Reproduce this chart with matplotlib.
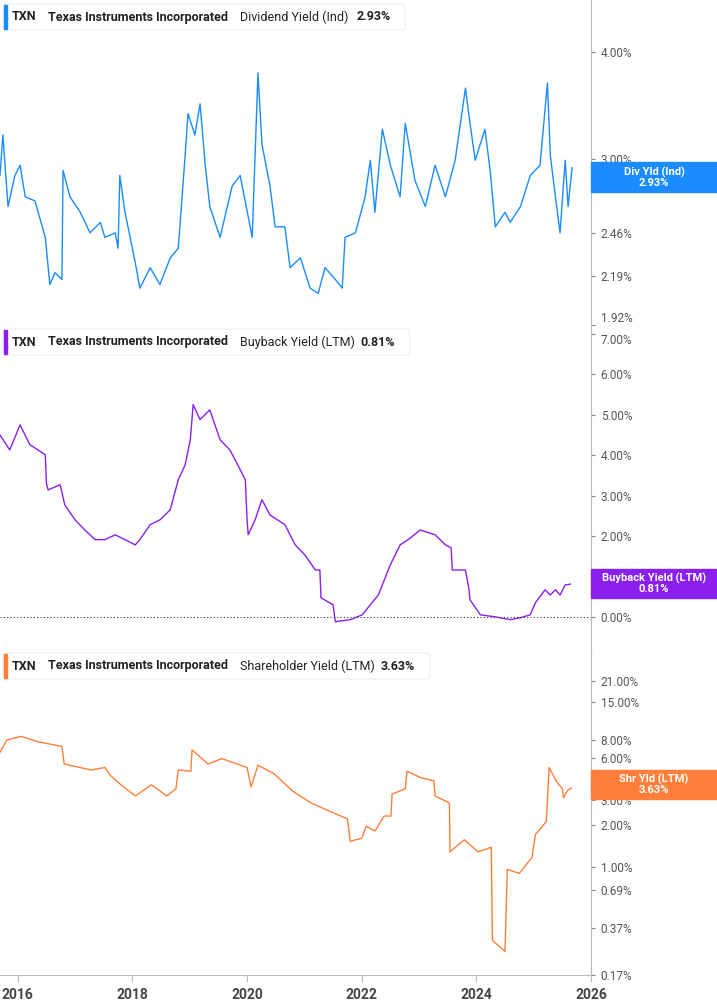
import numpy as np
import matplotlib.pyplot as plt
from matplotlib.patches import Rectangle, FancyBboxPatch
from matplotlib.ticker import FixedLocator, NullLocator

plt.rcParams["font.family"] = "Roboto"

# dividend yield (Ind), %
div_years = [2015.69, 2015.74, 2015.83, 2015.95, 2016.04, 2016.13, 2016.30, 2016.48, 2016.56, 2016.65,
             2016.77, 2016.79, 2016.91, 2017.09, 2017.26, 2017.44, 2017.52, 2017.70, 2017.75, 2017.78,
             2017.87, 2018.05, 2018.13, 2018.31, 2018.48, 2018.66, 2018.80, 2018.92, 2018.97, 2019.09,
             2019.18, 2019.27, 2019.35, 2019.53, 2019.74, 2019.88, 2020.09, 2020.19, 2020.26, 2020.40,
             2020.49, 2020.66, 2020.75, 2020.93, 2021.10, 2021.24, 2021.36, 2021.54, 2021.66, 2021.71,
             2021.89, 2022.06, 2022.15, 2022.23, 2022.36, 2022.50, 2022.67, 2022.76, 2022.93, 2023.11,
             2023.28, 2023.46, 2023.63, 2023.81, 2023.89, 2023.98, 2024.15, 2024.24, 2024.33, 2024.50,
             2024.59, 2024.77, 2024.94, 2025.11, 2025.24, 2025.29, 2025.38, 2025.46, 2025.55, 2025.60,
             2025.67]
div_vals = [2.87, 3.20, 2.64, 2.87, 2.95, 2.71, 2.68, 2.43, 2.14, 2.21,
            2.17, 2.91, 2.71, 2.60, 2.46, 2.53, 2.43, 2.46, 2.36, 2.87,
            2.60, 2.27, 2.12, 2.24, 2.14, 2.30, 2.36, 3.03, 3.39, 3.20,
            3.48, 2.95, 2.64, 2.43, 2.79, 2.87, 2.43, 3.78, 3.12, 2.79,
            2.50, 2.50, 2.24, 2.30, 2.12, 2.09, 2.24, 2.17, 2.12, 2.43,
            2.46, 2.71, 2.99, 2.60, 3.25, 2.95, 2.71, 3.30, 2.83, 2.64,
            2.95, 2.71, 2.99, 3.63, 3.30, 2.99, 3.25, 2.91, 2.50, 2.60,
            2.53, 2.64, 2.87, 2.95, 3.68, 3.03, 2.71, 2.46, 2.99, 2.64,
            2.93]

# buyback yield (LTM), %
bb_years = [2015.69, 2015.86, 2016.04, 2016.21, 2016.48, 2016.50, 2016.53, 2016.74, 2016.82, 2017.00,
            2017.17, 2017.35, 2017.52, 2017.70, 2017.87, 2018.05, 2018.13, 2018.31, 2018.48, 2018.66,
            2018.80, 2018.92, 2019.01, 2019.06, 2019.18, 2019.35, 2019.53, 2019.70, 2019.79, 2019.97,
            2020.00, 2020.02, 2020.14, 2020.26, 2020.40, 2020.66, 2020.84, 2021.01, 2021.19, 2021.27,
            2021.29, 2021.50, 2021.54, 2021.80, 2022.01, 2022.15, 2022.29, 2022.50, 2022.67, 2022.81,
            2023.02, 2023.28, 2023.46, 2023.56, 2023.58, 2023.81, 2023.87, 2023.89, 2024.07, 2024.33,
            2024.59, 2024.77, 2024.94, 2025.03, 2025.20, 2025.29, 2025.38, 2025.46, 2025.55, 2025.64]
bb_vals = [4.50, 4.13, 4.75, 4.26, 4.01, 3.30, 3.14, 3.27, 2.77, 2.40,
           2.15, 1.91, 1.91, 2.03, 1.91, 1.78, 1.91, 2.28, 2.40, 2.65,
           3.39, 3.76, 4.38, 5.25, 4.88, 5.12, 4.38, 4.13, 3.89, 3.39,
           2.40, 2.03, 2.40, 2.90, 2.52, 2.28, 1.78, 1.53, 1.16, 1.16,
           0.47, 0.30, -0.12, -0.07, 0.05, 0.30, 0.54, 1.29, 1.78, 1.91,
           2.15, 2.03, 1.78, 1.71, 1.16, 1.16, 0.70, 0.42, 0.05, 0.00,
           -0.07, -0.02, 0.05, 0.35, 0.67, 0.54, 0.67, 0.54, 0.79, 0.81]

# shareholder yield (LTM), %
sh_years = [2015.69, 2015.81, 2016.06, 2016.34, 2016.77, 2016.81, 2017.28, 2017.52, 2017.61, 2017.80,
            2018.05, 2018.33, 2018.60, 2018.76, 2018.80, 2019.02, 2019.04, 2019.32, 2019.56, 2020.00,
            2020.07, 2020.19, 2020.47, 2020.80, 2021.12, 2021.43, 2021.75, 2021.80, 2022.00, 2022.08,
            2022.23, 2022.39, 2022.51, 2022.53, 2022.76, 2022.79, 2023.04, 2023.26, 2023.28, 2023.53,
            2023.54, 2023.79, 2024.03, 2024.26, 2024.28, 2024.50, 2024.54, 2024.75, 2024.97, 2025.03,
            2025.22, 2025.27, 2025.39, 2025.50, 2025.52, 2025.59, 2025.66]
sh_vals = [6.55, 8.0, 8.5, 7.8, 7.2, 5.4, 4.9, 5.1, 4.5, 3.84,
           3.2, 3.84, 3.2, 3.6, 4.9, 4.8, 6.8, 5.4, 5.9, 5.1,
           3.7, 5.3, 4.6, 3.45, 2.85, 2.5, 2.2, 1.52, 1.6, 1.95,
           1.8, 2.3, 2.3, 3.3, 3.6, 4.8, 4.3, 4.1, 3.2, 2.85,
           1.28, 1.56, 1.28, 1.38, 0.30, 0.25, 0.96, 0.90, 1.17, 1.7,
           2.1, 5.1, 4.1, 3.6, 3.1, 3.5, 3.63]

year_ticks = [2016, 2018, 2020, 2022, 2024, 2026]
div_ticks = [1.92, 2.19, 2.46, 3.00, 4.00]
bb_ticks = [0, 1, 2, 3, 4, 5, 6, 7]
sh_ticks = [0.17, 0.37, 0.69, 1, 2, 3, 6, 8, 15, 21]

BLUE = "#1a8cff"
PURPLE = "#8a1ff0"
ORANGE = "#ff7f3a"
GRID = "#bbbbbb"

W, H = 717, 1005
fig = plt.figure(figsize=(W / 100, H / 100), dpi=100)


def px(x, y):
    return x / W, 1 - y / H


def make_ax(top, bottom):
    ax = fig.add_axes([0, 1 - bottom / H, 591 / W, (bottom - top) / H])
    for s in ["left", "top"]:
        ax.spines[s].set_visible(False)
    ax.spines["right"].set_color(GRID)
    ax.spines["bottom"].set_color(GRID)
    ax.yaxis.tick_right()
    ax.tick_params(axis="y", length=3, color="#888888", labelcolor="#555555", labelsize=8.5, pad=4)
    ax.set_xlim(2015.69, 2026.0)
    ax.set_xticks([])
    return ax


ax1 = make_ax(0, 325)
ax1.plot(div_years, div_vals, color=BLUE, lw=1.0)
ax1.set_yscale("log")
ax1.set_ylim(1.92, 4.6)
ax1.yaxis.set_major_locator(FixedLocator(div_ticks))
ax1.yaxis.set_minor_locator(NullLocator())
ax1.set_yticklabels([f"{t:.2f}%" for t in div_ticks])
ax1.get_yticklabels()[0].set_va("bottom")

ax2 = make_ax(325, 650)
ax2.plot(bb_years, bb_vals, color=PURPLE, lw=1.0)
ax2.set_ylim(-0.82, 7.22)
ax2.set_yticks(bb_ticks)
ax2.set_yticklabels([f"{t:.2f}%" for t in bb_ticks])
ax2.get_yticklabels()[-1].set_va("top")
ax2.axhline(0, color="#333333", lw=0.8, ls=(0, (1, 2)), clip_on=False)

ax3 = make_ax(650, 975)
ax3.plot(sh_years, sh_vals, color=ORANGE, lw=1.0)
ax3.set_yscale("log")
ax3.set_ylim(0.17, 35)
ax3.yaxis.set_major_locator(FixedLocator(sh_ticks))
ax3.yaxis.set_minor_locator(NullLocator())
ax3.set_yticklabels([f"{t:.2f}%" for t in sh_ticks])
ax3.set_xticks(year_ticks)
ax3.set_xticklabels([str(y) for y in year_ticks])
ax3.tick_params(axis="x", length=5, color=GRID, labelcolor="#444444", labelsize=10, pad=4)
for lab in ax3.get_xticklabels():
    lab.set_fontweight("bold")

# legend boxes
legends = [(17, BLUE, "Dividend Yield (Ind)", "2.93%", 405, 357),
           (342, PURPLE, "Buyback Yield (LTM)", "0.81%", 410, 360),
           (666, ORANGE, "Shareholder Yield (LTM)", "3.63%", 430, 381)]
for y, col, name, val, right, vx in legends:
    x0, y0 = px(3, y + 13)
    x1, y1 = px(right, y - 13)
    fig.add_artist(FancyBboxPatch((x0, y0), x1 - x0, y1 - y0, boxstyle="round,pad=0,rounding_size=0.004",
                                  transform=fig.transFigure, facecolor="white", edgecolor="#eeeeee", lw=0.8))
    bx, by = px(4, y + 12)
    fig.add_artist(Rectangle((bx, by), 3 / W, 24 / H, transform=fig.transFigure, color=col))
    fig.text(*px(12, y), "TXN", fontsize=9, fontweight="bold", color="#222222", va="center")
    fig.text(*px(48, y), "Texas Instruments Incorporated", fontsize=9, fontweight="bold", color="#222222", va="center")
    fig.text(*px(240, y), name, fontsize=9, color="#222222", va="center")
    fig.text(*px(vx, y), val, fontsize=9, fontweight="bold", color="#222222", va="center")

# value tags on the right
tags = [(162, 192, BLUE, "Div Yld (Ind)\n2.93%"),
        (569, 598, PURPLE, "Buyback Yield (LTM)\n0.81%"),
        (770, 799, ORANGE, "Shr Yld (LTM)\n3.63%")]
for t, b, col, label in tags:
    x0, y0 = px(591, b)
    fig.add_artist(Rectangle((x0, y0), 126 / W, (b - t) / H, transform=fig.transFigure, color=col, zorder=5))
    fig.text(*px(654, (t + b) / 2), label, fontsize=8, fontweight="bold", color="white",
             ha="center", va="center", linespacing=1.0, zorder=6)

fig.savefig("out.png", dpi=100)
